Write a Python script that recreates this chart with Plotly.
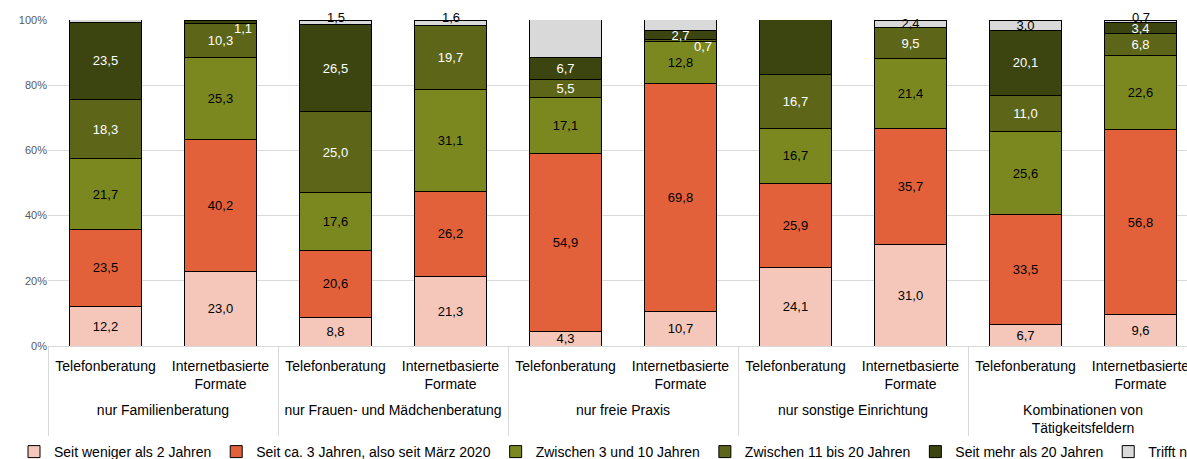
import plotly.graph_objects as go

# ---------------- data ----------------
groups = ["nur Familienberatung", "nur Frauen- und Mädchenberatung", "nur freie Praxis",
          "nur sonstige Einrichtung", "Kombinationen von<br>Tätigkeitsfeldern"]
formats = ["Telefonberatung", "Internetbasierte<br>Formate"]

series_names = ["Seit weniger als 2 Jahren", "Seit ca. 3 Jahren, also seit März 2020",
                "Zwischen 3 und 10 Jahren", "Zwischen 11 bis 20 Jahren",
                "Seit mehr als 20 Jahren", "Trifft nicht zu"]

weniger_2 = [12.2, 23.0, 8.8, 21.3, 4.3, 10.7, 24.1, 31.0, 6.7, 9.6]
seit_3 = [23.5, 40.2, 20.6, 26.2, 54.9, 69.8, 25.9, 35.7, 33.5, 56.8]
zw_3_10 = [21.7, 25.3, 17.6, 31.1, 17.1, 12.8, 16.7, 21.4, 25.6, 22.6]
zw_11_20 = [18.3, 10.3, 25.0, 19.7, 5.5, 0.7, 16.7, 9.5, 11.0, 6.8]
mehr_20 = [23.5, 1.1, 26.5, 0.0, 6.7, 2.7, 16.7, 0.0, 20.1, 3.4]
trifft_nicht = [0.9, 0.0, 1.5, 1.6, 11.6, 3.4, 0.0, 2.4, 3.0, 0.7]

series_values = [weniger_2, seit_3, zw_3_10, zw_11_20, mehr_20, trifft_nicht]

y_ticks = [0, 20, 40, 60, 80, 100]

# ---------------- style ----------------
colors = ["#F4C7BA", "#E2613A", "#7B8820", "#5D6618", "#3C4510", "#D9D9D9"]
text_colors = ["#000000", "#000000", "#000000", "#FFFFFF", "#FFFFFF", "#000000"]
FONT = "Liberation Sans, Arial, sans-serif"

# a tiny invisible spacer line under the first-level labels pushes the
# second-level (group) labels a bit further down, as in the original
SPACER = "<br><span style='font-size:2px'>\u00a0</span>"
x_cats = [[g for g in groups for _ in formats],
          [f + SPACER for _ in groups for f in formats]]


def fmt(v):
    return f"{v:.1f}".replace(".", ",")


fig = go.Figure()
for name, vals, col, tcol in zip(series_names, series_values, colors, text_colors):
    fig.add_trace(go.Bar(
        name=name, x=x_cats, y=vals,
        marker=dict(color=col, line=dict(color="#000000", width=1)),
        text=[fmt(v) if v >= 2 else "" for v in vals],
        textposition="inside", insidetextanchor="middle", textangle=0,
        textfont=dict(color=tcol, size=13, family=FONT),
        cliponaxis=False,
    ))

# small values as annotations
annotations = []
n = len(weniger_2)
for s_idx, vals in enumerate(series_values):
    for i in range(n):
        v = vals[i]
        if 0 < v < 2:
            base = sum(series_values[k][i] for k in range(s_idx))
            col = text_colors[s_idx]
            if s_idx == len(series_values) - 1:
                annotations.append(dict(x=i, y=base + v, xref="x", yref="y", text=fmt(v),
                                        showarrow=False, yanchor="middle", yshift=3,
                                        font=dict(size=13, color="#000000", family=FONT)))
            else:
                annotations.append(dict(x=i, y=base + v / 2, xref="x", yref="y", text=fmt(v),
                                        showarrow=False, yanchor="middle", xshift=22, yshift=-6,
                                        font=dict(size=13, color=col, family=FONT)))

W = 1330
L = 48
R = 10
GW = W - L - R          # plotting-area width available to plotly
PW = 1150               # width used by the x axis
fig.update_layout(
    barmode="stack",
    bargap=0.37,
    width=W, height=459,
    margin=dict(l=L, r=R, t=20, b=113, autoexpand=False),
    plot_bgcolor="#FFFFFF", paper_bgcolor="#FFFFFF",
    separators=",.",
    font=dict(family=FONT, color="#000000"),
    uniformtext=dict(minsize=13, mode="show"),
    showlegend=True,
    legend=dict(orientation="h", x=(14 - L) / GW, xanchor="left", y=(346 - 452) / 326,
                yanchor="middle", font=dict(size=14, color="#000000", family=FONT),
                traceorder="normal"),
    annotations=annotations,
)
fig.update_xaxes(type="multicategory", domain=[0, PW / GW], showgrid=False, showline=True,
                 linecolor="#D9D9D9", linewidth=1, ticks="", showdividers=True,
                 dividercolor="#D9D9D9", dividerwidth=1, ticklabelstandoff=7,
                 tickfont=dict(size=14, color="#000000", family=FONT))
fig.update_yaxes(range=[0, 100], tickvals=y_ticks, ticktext=[f"{t}%" for t in y_ticks],
                 showgrid=True, gridcolor="#D9D9D9", gridwidth=1, zeroline=False,
                 tickfont=dict(size=11, color="#595959", family=FONT), ticks="")

fig.write_html("out.html", config={"displayModeBar": False},
               post_script="document.body.style.margin='0';document.body.style.overflow='hidden';")
